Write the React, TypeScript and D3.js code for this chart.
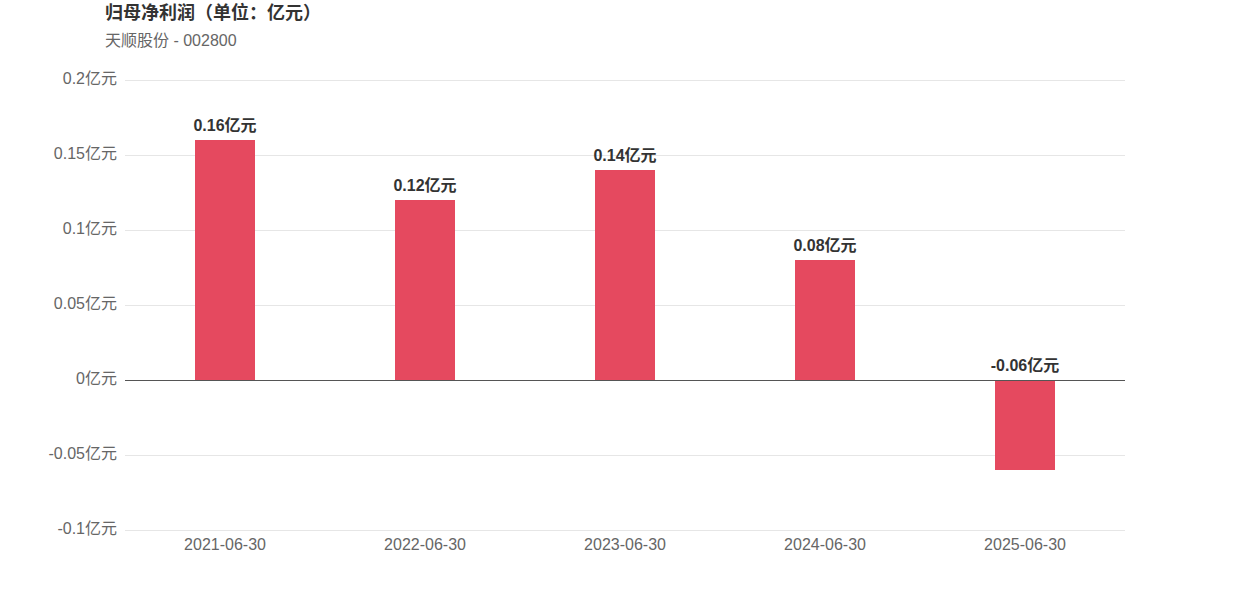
import React, { useEffect, useRef } from 'react'
import * as d3 from 'd3'

const dates = ['2021-06-30', '2022-06-30', '2023-06-30', '2024-06-30', '2025-06-30']
const profits = [0.16, 0.12, 0.14, 0.08, -0.06]
const yTicks = [0.2, 0.15, 0.1, 0.05, 0, -0.05, -0.1]

const FONT = '"Liberation Sans", Arial, "Noto Sans CJK SC", sans-serif'

const App: React.FC = () => {
    const ref = useRef<SVGSVGElement | null>(null)

    useEffect(() => {
        if (!ref.current) return
        const width = 1250
        const height = 600
        const svg = d3.select(ref.current)
            .attr('width', width)
            .attr('height', height)
        svg.selectAll('*').remove()

        const x = d3.scaleBand<string>().domain(dates).range([125, 1125])
        const y = d3.scaleLinear().domain([-0.1, 0.2]).range([530, 80])

        // title
        svg.append('text')
            .attr('x', 105).attr('y', 19)
            .text('归母净利润（单位：亿元）')
            .style('font-size', '18px')
            .style('font-weight', 'bold')
            .style('fill', '#333')
            .style('font-family', FONT)

        svg.append('text')
            .attr('x', 105).attr('y', 46)
            .text('天顺股份 - 002800')
            .style('font-size', '16px')
            .style('fill', '#666')
            .style('font-family', FONT)

        // grid
        svg.append('g').selectAll('line')
            .data(yTicks.filter(d => d !== 0))
            .enter()
            .append('line')
            .attr('x1', 125).attr('x2', 1125)
            .attr('y1', d => y(d) + 0.5).attr('y2', d => y(d) + 0.5)
            .attr('stroke', '#e6e6e6')

        svg.append('g').selectAll('text')
            .data(yTicks)
            .enter()
            .append('text')
            .attr('x', 117)
            .attr('y', d => y(d) + 4)
            .attr('text-anchor', 'end')
            .text(d => `${d}亿元`)
            .style('font-size', '16px')
            .style('fill', '#666')
            .style('font-family', FONT)

        const barW = 60
        svg.append('g').selectAll('rect')
            .data(profits)
            .enter()
            .append('rect')
            .attr('x', (d, i) => (x(dates[i]) as number) + x.bandwidth() / 2 - barW / 2)
            .attr('y', d => y(Math.max(d, 0)))
            .attr('width', barW)
            .attr('height', d => Math.abs(y(d) - y(0)))
            .attr('fill', '#e5495f')

        // zero line
        svg.append('line')
            .attr('x1', 125).attr('x2', 1125)
            .attr('y1', y(0) + 0.5).attr('y2', y(0) + 0.5)
            .attr('stroke', '#555')

        svg.append('g').selectAll('text')
            .data(profits)
            .enter()
            .append('text')
            .attr('x', (d, i) => (x(dates[i]) as number) + x.bandwidth() / 2)
            .attr('y', d => (d >= 0 ? y(d) : y(0)) - 9)
            .attr('text-anchor', 'middle')
            .text(d => `${d}亿元`)
            .style('font-size', '16px')
            .style('font-weight', 'bold')
            .style('fill', '#333')
            .style('font-family', FONT)

        svg.append('g').selectAll('text')
            .data(dates)
            .enter()
            .append('text')
            .attr('x', d => (x(d) as number) + x.bandwidth() / 2)
            .attr('y', 550)
            .attr('text-anchor', 'middle')
            .text(d => d)
            .style('font-size', '16px')
            .style('fill', '#666')
            .style('font-family', FONT)
    }, [])

    return <svg ref={ref} style={{ position: 'absolute', left: 0, top: 0, background: '#fff' }}></svg>
}

export default App
